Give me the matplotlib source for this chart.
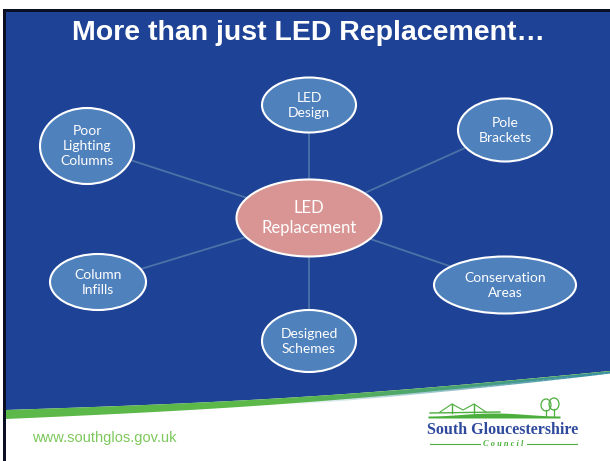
import numpy as np
import matplotlib
matplotlib.use("Agg")
import matplotlib.pyplot as plt
from matplotlib.patches import Ellipse, Rectangle, Polygon

# slide content
title = "More than just LED Replacement\u2026"
centre_label = "LED\nReplacement"
centre_xy = (309, 218)
centre_size = (145, 77)

node_labels = ["LED\nDesign", "Pole\nBrackets", "Conservation\nAreas",
               "Designed\nSchemes", "Column\nInfills", "Poor\nLighting\nColumns"]
node_x = [309, 505, 505, 309, 98, 87]
node_y = [105, 130, 285, 341, 282, 146]
node_w = [94, 94, 142, 94, 96, 94]
node_h = [55, 63, 57, 62, 56, 76]

footer_url = "www.southglos.gov.uk"
logo_name = "South Gloucestershire"
logo_sub = "C o u n c i l"

W, H = 610, 461
BLUE = "#1e4295"
NODE = "#4f81bd"
PINK = "#d99594"
LINK = "#4d72a8"
GREEN = "#5cb848"

fig = plt.figure(figsize=(W / 100, H / 100), dpi=100)
ax = fig.add_axes([0, 0, 1, 1])
ax.set_xlim(0, W)
ax.set_ylim(H, 0)
ax.axis("off")

# blue slide body with wavy bottom edge
xs = np.linspace(6, W, 100)
edge = 410 - 39 * (xs - 6) / (W - 6) + 6 * np.sin(np.pi * (xs - 6) / (W - 6))
body = np.vstack([[6, 12], [W, 12], *np.column_stack([xs[::-1], edge[::-1]])])
ax.add_patch(Polygon(body, closed=True, fc=BLUE, ec="none", zorder=1))

# green swoosh under the blue
thick = 8 * (1 - (xs - 6) / (W - 6)) ** 0.8 + 1
band = np.vstack([np.column_stack([xs, edge]), np.column_stack([xs[::-1], (edge + thick)[::-1]])])
ax.add_patch(Polygon(band, closed=True, fc=GREEN, ec="none", zorder=1))
for i in range(len(xs) - 1):
    f = (xs[i] - 6) / (W - 6)
    if f > 0.45:
        ax.fill_between(xs[i:i + 2], edge[i:i + 2], edge[i:i + 2] + thick[i:i + 2] + 1,
                        color="#3a8fa0", alpha=min(1, (f - 0.45) * 2), lw=0, zorder=1)

# black frame on top and left
ax.add_patch(Rectangle((3, 9), W, 3, fc="#0a0f24", ec="none", zorder=2))
ax.add_patch(Rectangle((3, 9), 3, H, fc="#0a0f24", ec="none", zorder=2))

ax.text(309, 33, title, color="white", fontsize=20.5, fontweight="bold",
        family="Liberation Sans", ha="center", va="center", zorder=5)

# spokes
for x, y in zip(node_x, node_y):
    ax.plot([centre_xy[0], x], [centre_xy[1], y], color=LINK, lw=1.3, zorder=3)

for lab, x, y, w, h in zip(node_labels, node_x, node_y, node_w, node_h):
    ax.add_patch(Ellipse((x, y), w, h, fc=NODE, ec="white", lw=1.5, zorder=4))
    ax.text(x, y, lab, color="white", fontsize=10, family="Lato", ha="center",
            va="center", linespacing=1.3, zorder=5)

ax.add_patch(Ellipse(centre_xy, *centre_size, fc=PINK, ec="white", lw=1.5, zorder=4))
ax.text(centre_xy[0], centre_xy[1], centre_label, color="white", fontsize=12,
        family="Lato", ha="center", va="center", linespacing=1.3, zorder=5)

# footer
ax.text(32, 438, footer_url, color="#7dc85c", fontsize=10.5, family="Liberation Sans",
        ha="left", va="center", zorder=5)

# logo: hills, bridge, trees
hx = np.linspace(428, 560, 40)
ax.fill_between(hx, 416 - 3 * np.sin(np.pi * (hx - 428) / 132) ** 2, 418,
                color="#4cae3c", lw=0, zorder=5)
ax.plot([430, 500], [413, 412], color="#4cae3c", lw=1, zorder=5)
for px in [452, 474]:
    ax.plot([px, px], [404, 413], color="#4cae3c", lw=1, zorder=5)
ax.plot([440, 452, 463, 474, 486], [412, 404, 410, 404, 412], color="#4cae3c", lw=0.8, zorder=5)
for tx, ty, r in [(546, 405, 5), (554, 404, 5)]:
    ax.add_patch(Ellipse((tx, ty), 2 * r, 2 * r + 2, fc="none", ec="#4cae3c", lw=0.9, zorder=5))
    ax.plot([tx, tx], [ty + 5, 416], color="#4cae3c", lw=0.9, zorder=5)
ax.text(503, 430, logo_name, color="#2f4a9c", fontsize=11.5, fontweight="bold",
        family="Liberation Serif", ha="center", va="center", zorder=5)
ax.text(503, 444, logo_sub, color="#4cae3c", fontsize=6, style="italic", fontweight="bold",
        family="Liberation Serif", ha="center", va="center", zorder=5)
ax.plot([430, 480], [444, 444], color="#4cae3c", lw=0.8, zorder=5)
ax.plot([527, 577], [444, 444], color="#4cae3c", lw=0.8, zorder=5)

fig.savefig("out.png", dpi=100)
